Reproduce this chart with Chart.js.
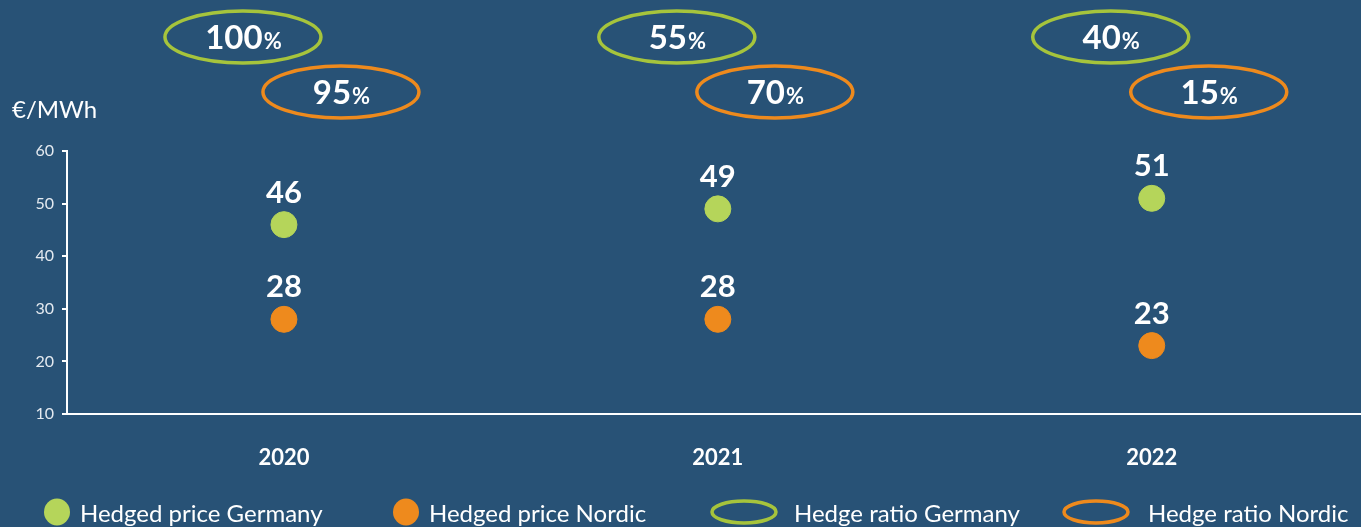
<!DOCTYPE html>
<html>
<head>
<meta charset="utf-8">
<script src="https://cdn.jsdelivr.net/npm/chart.js@4.4.1/dist/chart.umd.min.js"></script>
<style>
  html, body { margin: 0; padding: 0; background: #285276; }
  #wrap { width: 1361px; height: 527px; }
</style>
</head>
<body>
<div id="wrap"><canvas id="myChart" width="1361" height="527"></canvas></div>
<script>
const years = ['2020', '2021', '2022'];
const priceGermany = [46, 49, 51];
const priceNordic = [28, 28, 23];
const ratioGermany = [100, 55, 40];
const ratioNordic = [95, 70, 15];
const yTicks = [10, 20, 30, 40, 50, 60];

const GREEN = '#b5d55a';
const GREEN_LINE = '#a6c43c';
const ORANGE = '#ee8a1d';
const FONT = 'Lato, "Open Sans", sans-serif';

// background + labels + hedge ratio ellipses + legend
const extras = {
    id: 'extras',
    beforeDraw(chart) {
        const c = chart.ctx;
        c.save();
        c.fillStyle = '#285276';
        c.fillRect(0, 0, chart.width, chart.height);
        c.restore();
    },
    afterDraw(chart) {
        const c = chart.ctx;
        const xs = chart.scales.x;
        const area = chart.chartArea;
        c.save();

        // x axis line runs on to the right edge
        const ay = Math.round(xs.top);
        c.strokeStyle = '#ffffff';
        c.lineWidth = 2;
        c.beginPath();
        c.moveTo(area.right - 2, ay);
        c.lineTo(chart.width, ay);
        c.stroke();

        c.fillStyle = '#ffffff';
        c.textBaseline = 'middle';

        // axis unit
        c.font = '24px ' + FONT;
        c.textAlign = 'left';
        c.fillText('€/MWh', 12, 110);

        // value labels above points
        c.font = 'bold 31px ' + FONT;
        c.textAlign = 'center';
        chart.data.datasets.forEach((ds, di) => {
            chart.getDatasetMeta(di).data.forEach((pt, i) => {
                c.fillText(String(ds.data[i].y), pt.x, pt.y - 32);
            });
        });

        // hedge ratio ellipses
        const drawRatio = (cx, cy, val, col) => {
            c.beginPath();
            c.ellipse(cx, cy, 78, 26, 0, 0, Math.PI * 2);
            c.lineWidth = 3.5;
            c.strokeStyle = col;
            c.stroke();
            const t1 = String(val);
            c.font = 'bold 33px ' + FONT;
            const w1 = c.measureText(t1).width;
            c.font = 'bold 22px ' + FONT;
            const w2 = c.measureText('%').width;
            const x0 = cx - (w1 + w2) / 2;
            c.textAlign = 'left';
            c.font = 'bold 33px ' + FONT;
            c.fillText(t1, x0, cy + 1);
            c.font = 'bold 22px ' + FONT;
            c.fillText('%', x0 + w1 + 1, cy + 5);
        };
        years.forEach((y, i) => {
            const px = xs.getPixelForValue(i);
            drawRatio(px - 41, 37, ratioGermany[i], GREEN_LINE);
            drawRatio(px + 57, 92, ratioNordic[i], ORANGE);
        });

        // legend
        const ly = 513;
        c.font = '24px ' + FONT;
        c.textAlign = 'left';
        c.fillStyle = GREEN;
        c.beginPath(); c.ellipse(57, ly - 1, 13, 13.5, 0, 0, Math.PI * 2); c.fill();
        c.fillStyle = ORANGE;
        c.beginPath(); c.ellipse(406, ly - 1, 13, 13.5, 0, 0, Math.PI * 2); c.fill();
        c.lineWidth = 3.5;
        c.strokeStyle = GREEN_LINE;
        c.beginPath(); c.ellipse(744, ly - 1, 32, 11, 0, 0, Math.PI * 2); c.stroke();
        c.strokeStyle = ORANGE;
        c.beginPath(); c.ellipse(1096, ly - 1, 32, 11, 0, 0, Math.PI * 2); c.stroke();
        c.fillStyle = '#ffffff';
        c.fillText('Hedged price Germany', 80, ly + 1);
        c.fillText('Hedged price Nordic', 429, ly + 1);
        c.fillText('Hedge ratio Germany', 794, ly + 1);
        c.fillText('Hedge ratio Nordic', 1148, ly + 1);
        c.restore();
    }
};

const ctx = document.getElementById('myChart').getContext('2d');
const chart = new Chart(ctx, {
    type: 'scatter',
    data: {
        datasets: [{
            label: 'Hedged price Germany',
            data: priceGermany.map((v, i) => ({ x: i, y: v })),
            backgroundColor: GREEN,
            borderColor: GREEN,
            pointRadius: 13,
            pointHoverRadius: 13,
        }, {
            label: 'Hedged price Nordic',
            data: priceNordic.map((v, i) => ({ x: i, y: v })),
            backgroundColor: ORANGE,
            borderColor: ORANGE,
            pointRadius: 13,
            pointHoverRadius: 13,
        }]
    },
    options: {
        responsive: false,
        animation: false,
        layout: { padding: { top: 151, right: 0, left: 0, bottom: 0 } },
        plugins: {
            legend: { display: false },
            tooltip: { enabled: false },
        },
        scales: {
            x: {
                type: 'linear',
                min: -0.5,
                max: 2.45,
                afterBuildTicks: (s) => { s.ticks = years.map((_, i) => ({ value: i })); },
                afterFit: (s) => { s.height = 113; },
                grid: { display: false },
                border: { color: '#ffffff', width: 2 },
                ticks: {
                    color: '#ffffff',
                    font: { family: FONT, size: 22, weight: 'bold' },
                    padding: 23,
                    callback: (v) => years[v],
                },
            },
            y: {
                min: 10,
                max: 60,
                afterBuildTicks: (s) => { s.ticks = yTicks.map(v => ({ value: v })); },
                afterFit: (s) => { s.width = 67; },
                grid: {
                    drawOnChartArea: false,
                    color: '#ffffff',
                    lineWidth: 2,
                    tickLength: 5,
                },
                border: { color: '#ffffff', width: 2 },
                ticks: {
                    color: '#e4eaf0',
                    font: { family: FONT, size: 16 },
                    padding: 8,
                },
            }
        }
    },
    plugins: [extras]
});
</script>
</body>
</html>
